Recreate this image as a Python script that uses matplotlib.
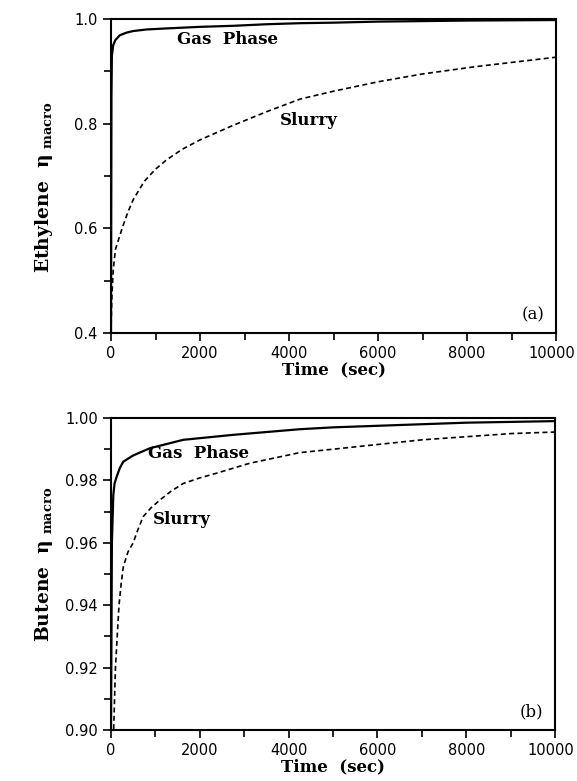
import matplotlib
matplotlib.use("Agg")
import matplotlib.pyplot as plt
import matplotlib.transforms as mtransforms
from matplotlib.ticker import MultipleLocator

# ---- data ----
# (a) Ethylene
eth_gas_t = [0, 10, 20, 50, 100, 200, 350, 500, 800, 1250, 2000, 2750, 3500, 4250, 5000, 6000, 7000, 8000, 9000, 10000]
eth_gas_eta = [0.40, 0.85, 0.93, 0.950, 0.960, 0.969, 0.974, 0.977, 0.980, 0.982, 0.985, 0.987, 0.990, 0.992, 0.993, 0.995, 0.996, 0.997, 0.9975, 0.998]

eth_slurry_t = [0, 10, 20, 50, 100, 175, 250, 375, 500, 750, 1000, 1250, 1600, 2000, 2750, 3500, 4250, 5000, 6000, 7000, 8200, 9000, 10000]
eth_slurry_eta = [0.40, 0.44, 0.47, 0.52, 0.56, 0.58, 0.60, 0.63, 0.655, 0.69, 0.713, 0.731, 0.751, 0.769, 0.797, 0.823, 0.847, 0.862, 0.880, 0.895, 0.909, 0.917, 0.927]

# (b) Butene
but_gas_t = [0, 20, 52, 80, 128, 200, 277, 500, 876, 1625, 2750, 4250, 5000, 6000, 8000, 10000]
but_gas_eta = [0.900, 0.960, 0.9753, 0.979, 0.9812, 0.984, 0.986, 0.988, 0.9903, 0.993, 0.9946, 0.9964, 0.997, 0.9975, 0.9985, 0.999]

but_slurry_t = [0, 60, 80, 100, 140, 180, 230, 277, 380, 500, 600, 726, 900, 1100, 1350, 1625, 2000, 2375, 3125, 4250, 5000, 6000, 7000, 8000, 9000, 10000]
but_slurry_eta = [0.895, 0.900, 0.910, 0.920, 0.930, 0.940, 0.947, 0.9523, 0.957, 0.960, 0.964, 0.9684, 0.9712, 0.9737, 0.9765, 0.979, 0.9808, 0.9823, 0.9855, 0.9889, 0.990, 0.9915, 0.993, 0.994, 0.995, 0.9955]

x_ticks = [0, 2000, 4000, 6000, 8000, 10000]
top_y_ticks = [0.4, 0.6, 0.8, 1.0]
bot_y_ticks = [0.90, 0.92, 0.94, 0.96, 0.98, 1.00]

SERIF = "DejaVu Serif"
plt.rcParams["mathtext.fontset"] = "custom"
plt.rcParams["mathtext.rm"] = SERIF + ":bold"
plt.rcParams["mathtext.it"] = SERIF + ":bold"
plt.rcParams["mathtext.bf"] = SERIF + ":bold"

W, H = 577, 781


def style_axes(ax, y_ticks, y_fmt, y_minor):
    ax.set_xlim(0, 10000)
    ax.set_xticks(x_ticks)
    ax.xaxis.set_minor_locator(MultipleLocator(1000))
    ax.set_yticks(y_ticks)
    ax.set_yticklabels([y_fmt.format(v) for v in y_ticks])
    ax.yaxis.set_minor_locator(MultipleLocator(y_minor))
    ax.tick_params(which="both", direction="out", width=1.2, labelsize=10.5,
                   top=False, right=False)
    ax.tick_params(which="major", length=6)
    ax.tick_params(which="minor", length=5)
    for sp in ax.spines.values():
        sp.set_linewidth(1.5)
    ax.set_xlabel("Time  (sec)", fontfamily=SERIF, fontweight="bold",
                  fontsize=12, labelpad=0)


fig = plt.figure(figsize=(W / 100, H / 100), dpi=100, facecolor="white")
ax1 = fig.add_axes([111 / W, 1 - 333 / H, 445 / W, 314 / H])
ax2 = fig.add_axes([111 / W, 1 - 730 / H, 444 / W, 312 / H])

# panel (a)
ax1.plot(eth_gas_t, eth_gas_eta, color="black", lw=1.6)
ax1.plot(eth_slurry_t, eth_slurry_eta, color="black", lw=1.2, ls=(0, (3, 2)))
ax1.set_ylim(0.4, 1.0)
style_axes(ax1, top_y_ticks, "{:.1f}", 0.1)
ax1.text(1483, 0.960, "Gas  Phase", fontfamily=SERIF, fontweight="bold",
         fontsize=12, ha="left", va="center")
ax1.text(3800, 0.807, "Slurry", fontfamily=SERIF, fontweight="bold",
         fontsize=12, ha="left", va="center")
ax1.text(0.975, 0.057, "(a)", transform=ax1.transAxes, fontfamily=SERIF,
         fontsize=12, ha="right", va="center")

# panel (b)
ax2.plot(but_gas_t, but_gas_eta, color="black", lw=1.6)
ax2.plot(but_slurry_t, but_slurry_eta, color="black", lw=1.2, ls=(0, (3, 2)))
ax2.set_ylim(0.90, 1.00)
style_axes(ax2, bot_y_ticks, "{:.2f}", 0.01)
ax2.text(830, 0.9885, "Gas  Phase", fontfamily=SERIF, fontweight="bold",
         fontsize=12, ha="left", va="center")
ax2.text(944, 0.9676, "Slurry", fontfamily=SERIF, fontweight="bold",
         fontsize=12, ha="left", va="center")
ax2.text(0.973, 0.059, "(b)", transform=ax2.transAxes, fontfamily=SERIF,
         fontsize=12, ha="right", va="center")

# y labels placed where the reference has them
fig.text(44 / W, 1 - 187 / H, r"Ethylene  $\eta\;_{\mathbf{macro}}$",
         fontfamily=SERIF, fontweight="bold", fontsize=13.5, rotation=90,
         ha="center", va="center")
fig.text(44 / W, 1 - 564 / H, r"Butene  $\eta\;_{\mathbf{macro}}$",
         fontfamily=SERIF, fontweight="bold", fontsize=13.5, rotation=90,
         ha="center", va="center")

# nudge the last x tick label so "10000" stays inside the image
shift = mtransforms.ScaledTranslation(-4 / 100, 0, fig.dpi_scale_trans)
for ax in (ax1, ax2):
    fig.canvas.draw()
    lab = ax.get_xticklabels()[-1]
    lab.set_transform(lab.get_transform() + shift)

fig.savefig("out.png", dpi=100, facecolor="white")
plt.close(fig)
